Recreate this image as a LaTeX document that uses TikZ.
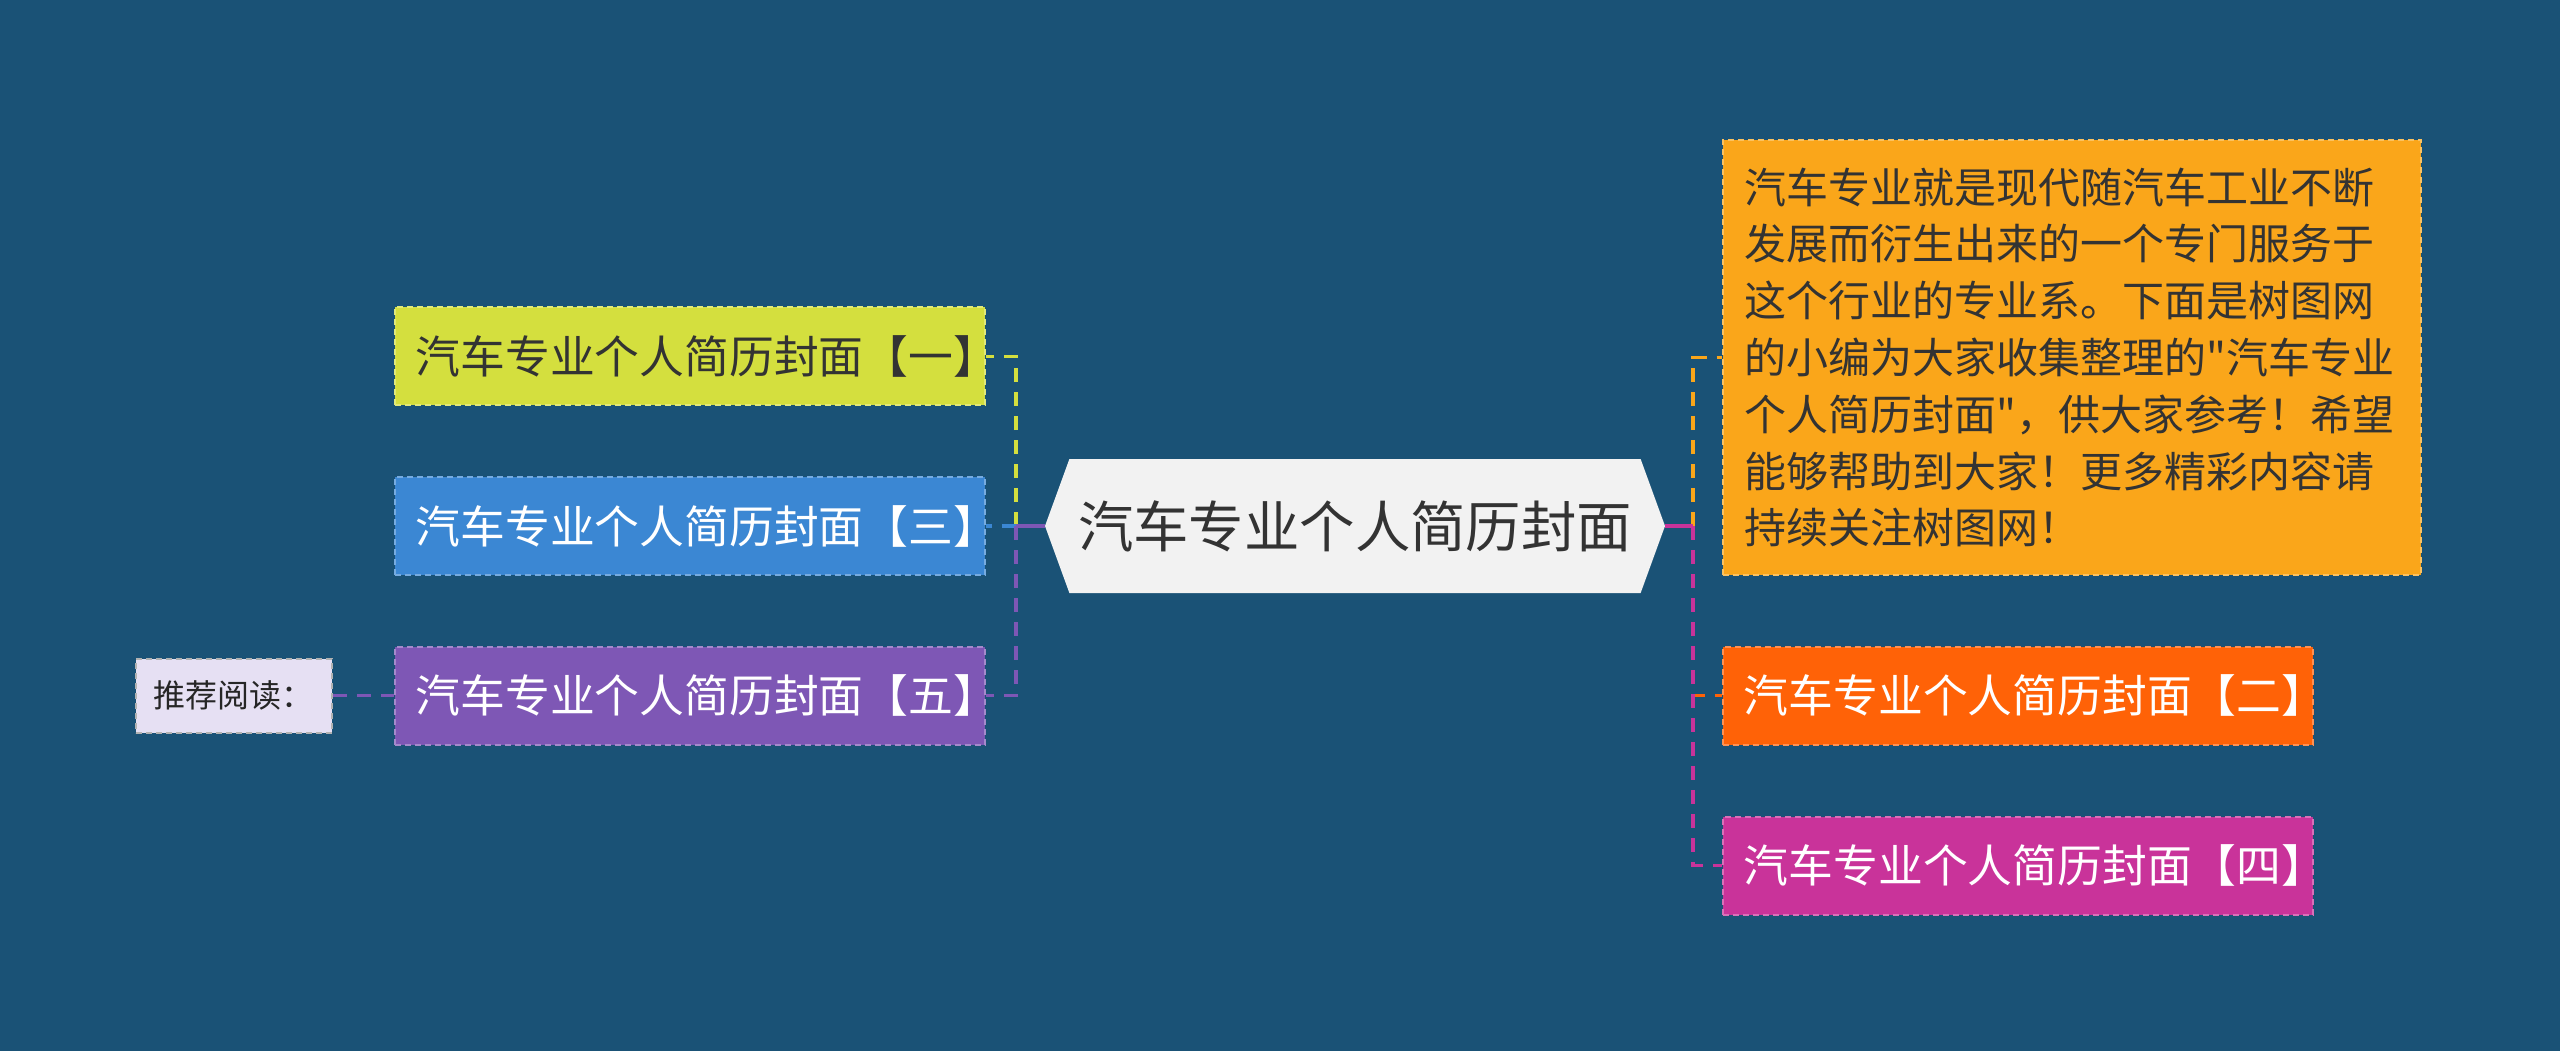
\documentclass[tikz,border=0pt]{standalone}
\usepackage{fontspec}
\setmainfont{Noto Sans CJK SC}[Ligatures=TeXOff]
\usepackage{tikz}
\usetikzlibrary{positioning,shapes.symbols}

\definecolor{bgblue}{HTML}{1A5276}
\definecolor{rootgray}{HTML}{F2F2F2}
\definecolor{darktext}{HTML}{333333}
\definecolor{limecol}{HTML}{D4DF3E}
\definecolor{bluecol}{HTML}{3B87D3}
\definecolor{purplecol}{HTML}{7E57B5}
\definecolor{ambercol}{HTML}{FAA61A}
\definecolor{orangecol}{HTML}{FF6207}
\definecolor{pinkcol}{HTML}{C9339A}
\definecolor{lavcol}{HTML}{E6E0F3}

\begin{document}
\begin{tikzpicture}[
    x=0.5pt, y=-0.5pt,
    node distance=35pt and 29.5pt,
    root/.style={signal, signal to=east and west, signal pointer angle=140,
                 fill=rootgray, text=darktext, minimum width=310pt, minimum height=67pt,
                 inner sep=0pt, font=\fontsize{27.7pt}{32pt}\selectfont},
    leaf/.style={draw=#1!70!white, fill=#1, dash pattern=on 3pt off 2pt, line width=0.9pt,
                 text width=274pt, align=left, inner xsep=10.5pt, minimum height=49pt,
                 text=white, font=\fontsize{22.4pt}{26pt}\selectfont},
    desc/.style={draw=ambercol!70!white, fill=ambercol, dash pattern=on 3pt off 2pt,
                 line width=0.9pt, text width=327pt, align=left, inner xsep=11pt,
                 minimum height=217.5pt, text=darktext,
                 font=\fontsize{21pt}{28.4pt}\selectfont},
    tag/.style={draw=gray!60, fill=lavcol, dash pattern=on 3pt off 2pt, line width=0.9pt,
                minimum width=98pt, minimum height=37pt, text=black!85,
                font=\fontsize{16pt}{19pt}\selectfont},
    link/.style={dash pattern=on 7pt off 5pt, line width=1.6pt},
    stem/.style={line width=1.6pt},
  ]
  \fill[bgblue] (0,0) rectangle (2560,1051);
  \useasboundingbox (0,0) rectangle (2560,1051);

  \node[root] (root) at (1355,526) {汽车专业个人简历封面};

  % left branch
  \node[leaf=bluecol, left=of root] (n3) {汽车专业个人简历封面【三】};
  \node[leaf=limecol, text=darktext, above=of n3] (n1) {汽车专业个人简历封面【一】};
  \node[leaf=purplecol, below=of n3] (n5) {汽车专业个人简历封面【五】};
  \node[tag, left=30.5pt of n5] (more) {推荐阅读：};

  % right branch
  \node[desc, anchor=west] (desc) at (1722,357.5)
    {汽车专业就是现代随汽车工业不断\\
     发展而衍生出来的一个专门服务于\\
     这个行业的专业系。下面是树图网\\
     的小编为大家收集整理的"汽车专业\\
     个人简历封面"，供大家参考！希望\\
     能够帮助到大家！更多精彩内容请\\
     持续关注树图网！};
  \node[leaf=orangecol, below=35pt of desc.south west, anchor=north west] (n2)
    {汽车专业个人简历封面【二】};
  \node[leaf=pinkcol, below=of n2] (n4) {汽车专业个人简历封面【四】};

  \coordinate (lspine) at (1016,526);
  \coordinate (rspine) at (1693,526);

  \draw[link, limecol]   (lspine) |- (n1.east);
  \draw[link, bluecol]   (lspine) -- (n3.east);
  \draw[link, purplecol] (lspine) |- (n5.east);
  \draw[stem, purplecol] (root.west) -- (lspine);
  \draw[link, purplecol] (more) -- (n5);

  \draw[link, ambercol]  (rspine) |- (desc.west);
  \draw[link, orangecol] (rspine) |- (n2.west);
  \draw[link, pinkcol]   (rspine) |- (n4.west);
  \draw[stem, pinkcol]   (root.east) -- (rspine);
\end{tikzpicture}
\end{document}
